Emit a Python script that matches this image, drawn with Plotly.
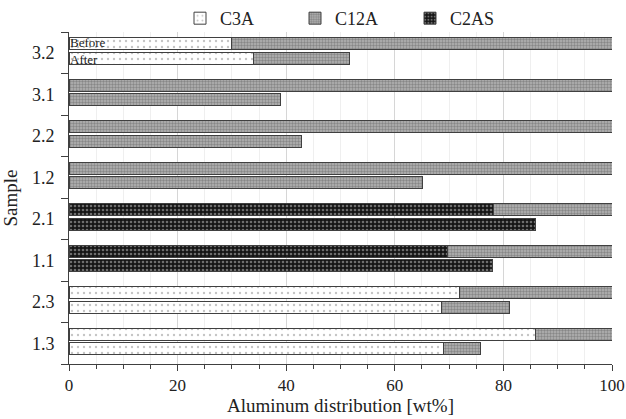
import plotly.graph_objects as go

# Samples from bottom to top
samples = ["1.3", "2.3", "1.1", "2.1", "1.2", "2.2", "3.1", "3.2"]

# Aluminum distribution [wt%] per phase, before and after
c3a_before = [86.0, 71.9, None, None, None, None, None, 30.0]
c12a_before = [14.0, 28.1, 30.3, 21.9, 100.0, 100.0, 100.0, 70.0]
c2as_before = [None, None, 69.7, 78.1, None, None, None, None]

c3a_after = [68.9, 68.6, None, None, None, None, None, 34.0]
c12a_after = [6.8, 12.5, None, None, 65.1, 42.8, 39.0, 17.7]
c2as_after = [None, None, 77.9, 86.0, None, None, None, None]

FONT = "Liberation Serif"
OUTLINE = dict(color="#404040", width=1)

n = len(samples)
pos_before = [i + 0.222 for i in range(n)]
pos_after = [i - 0.13 for i in range(n)]
ys = pos_before + pos_after

styles = {
    "C3A": dict(pattern=dict(shape=".", fgcolor="#8a8a8a", bgcolor="#ffffff",
                             size=6, solidity=0.12, fillmode="overlay"),
                color="#ffffff"),
    "C12A": dict(pattern=dict(shape=".", fgcolor="#5a5a5a", bgcolor="#b4b4b4",
                              size=3, solidity=0.5, fillmode="overlay"),
                 color="#b4b4b4"),
    "C2AS": dict(pattern=dict(shape=".", fgcolor="#c8c8c8", bgcolor="#151515",
                              size=4, solidity=0.35, fillmode="overlay"),
                 color="#151515"),
}

series = [
    ("C3A", c3a_before + c3a_after, 1),
    ("C2AS", c2as_before + c2as_after, 3),
    ("C12A", c12a_before + c12a_after, 2),
]

fig = go.Figure()
for name, vals, rank in series:
    st = styles[name]
    fig.add_trace(go.Bar(
        name=name, orientation="h", x=vals, y=ys, width=0.29,
        marker=dict(color=st["color"], pattern=st["pattern"], line=OUTLINE),
        legendrank=rank,
    ))

# Row labels inside the top pair of bars
fig.add_annotation(x=0, y=pos_before[-1], text="Before", showarrow=False,
                   xanchor="left", yanchor="middle", yshift=1, borderpad=0,
                   font=dict(family=FONT, size=13, color="#222"))
fig.add_annotation(x=0, y=pos_after[-1], text="After", showarrow=False,
                   xanchor="left", yanchor="middle", yshift=-1, borderpad=0,
                   font=dict(family=FONT, size=13, color="#222"))

fig.update_layout(
    width=626, height=419,
    barmode="stack",
    paper_bgcolor="white", plot_bgcolor="white",
    margin=dict(l=69, r=14, t=32, b=55, autoexpand=False),
    font=dict(family=FONT, size=16, color="#222"),
    showlegend=True,
    legend=dict(orientation="h", x=(180 - 69) / 543, xanchor="left",
                y=0.985, yanchor="bottom",
                font=dict(family=FONT, size=18, color="#222"),
                itemwidth=30, entrywidth=70, traceorder="normal",
                bgcolor="rgba(0,0,0,0)"),
    xaxis=dict(
        range=[0, 100], tickvals=[0, 20, 40, 60, 80, 100],
        ticks="outside", ticklen=6, tickcolor="#404040",
        showline=True, linecolor="#404040", linewidth=1,
        showgrid=True, gridcolor="#d6d6d6", gridwidth=1, zeroline=False,
        minor=dict(dtick=5, ticks="outside", ticklen=4, tickcolor="#404040",
                   showgrid=True, gridcolor="#efefef"),
        title=dict(text="Aluminum distribution [wt%]", standoff=4,
                   font=dict(family=FONT, size=19, color="#222")),
        tickfont=dict(family=FONT, size=17, color="#222"),
    ),
    yaxis=dict(
        range=[-0.5, n - 0.5], tickvals=list(range(n)), ticktext=samples,
        ticks="", showgrid=False, zeroline=False, ticklabelstandoff=10,
        showline=True, linecolor="#404040", linewidth=1,
        minor=dict(tickmode="array", tickvals=[i - 0.5 for i in range(n + 1)],
                   ticks="outside", ticklen=7, tickcolor="#404040", showgrid=False),
        title=dict(text="Sample", standoff=10,
                   font=dict(family=FONT, size=19, color="#222")),
        tickfont=dict(family=FONT, size=18, color="#222"),
    ),
)

fig.write_html("out.html")
